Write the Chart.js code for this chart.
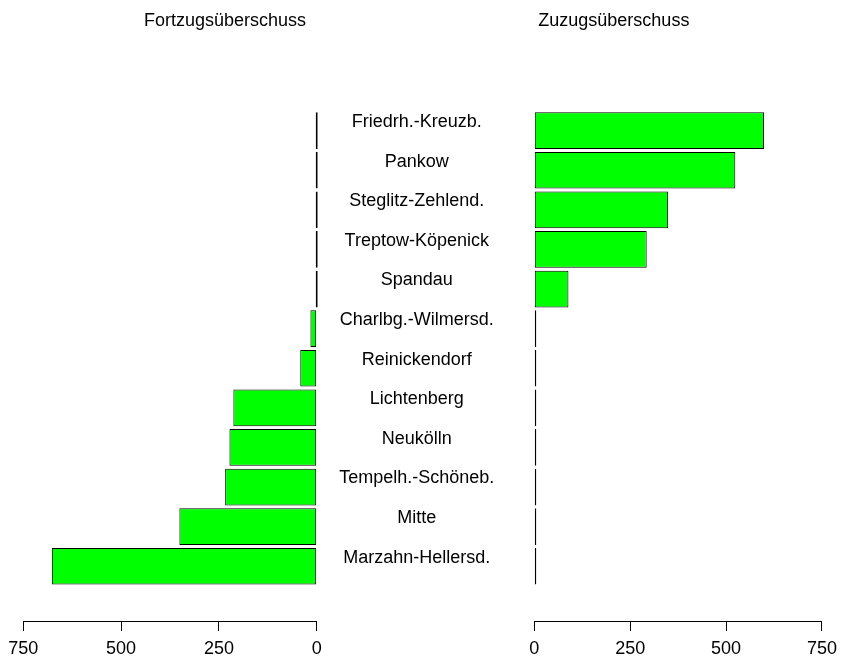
<!DOCTYPE html>
<html>
<head>
<meta charset="utf-8">
<script src="https://cdn.jsdelivr.net/npm/chart.js@4.4.0/dist/chart.umd.min.js"></script>
<style>
  html, body { margin: 0; padding: 0; background: #fff; }
  #wrap { position: relative; width: 845px; height: 659px; }
  #wrap canvas { position: absolute; left: 0; top: 0; }
</style>
</head>
<body>
<div id="wrap">
  <canvas id="chart-left" width="845" height="659"></canvas>
  <canvas id="chart-right" width="845" height="659"></canvas>
</div>
<script>
// data
var districts = ["Friedrh.-Kreuzb.", "Pankow", "Steglitz-Zehlend.", "Treptow-Köpenick", "Spandau",
  "Charlbg.-Wilmersd.", "Reinickendorf", "Lichtenberg", "Neukölln", "Tempelh.-Schöneb.", "Mitte", "Marzahn-Hellersd."];
var fortzug = [0, 0, 0, 0, 0, 16, 42, 213, 223, 234, 351, 677];
var zuzug = [599, 524, 349, 293, 89, 0, 0, 0, 0, 0, 0, 0];
var tickValues = [0, 250, 500, 750];
var titles = ["Fortzugsüberschuss", "Zuzugsüberschuss"];

Chart.defaults.font.family = "'Liberation Sans', Arial, sans-serif";
Chart.defaults.font.size = 18;
Chart.defaults.color = "#000";

// R style detached axis below the bars
function xAxis(reverse) {
  return {
    type: "linear",
    reverse: reverse,
    min: 0,
    max: 750,
    position: { y: 12.383 },
    afterBuildTicks: function (s) {
      s.ticks = tickValues.map(function (v) { return { value: v }; });
    },
    grid: { display: true, drawOnChartArea: false, drawTicks: true, tickLength: 9, color: "#000", lineWidth: 1 },
    border: { display: true, color: "#000", width: 1 },
    ticks: { padding: 8, color: "#000", maxRotation: 0, autoSkip: false }
  };
}

function barSet(values) {
  return {
    data: values,
    backgroundColor: "#00ff00",
    borderColor: "#000",
    borderWidth: 1,
    borderSkipped: false,
    minBarLength: 2,
    barPercentage: 0.927,
    categoryPercentage: 1,
    clip: false
  };
}

var titlePlugin = {
  id: "panelTitles",
  afterDraw: function (chart) {
    var ctx = chart.ctx;
    ctx.save();
    ctx.font = "18px 'Liberation Sans', Arial, sans-serif";
    ctx.fillStyle = "#000";
    ctx.textAlign = "left";
    ctx.textBaseline = "alphabetic";
    ctx.fillText(titles[0], 144, 25.7);
    ctx.fillText(titles[1], 538.3, 25.7);
    ctx.restore();
  }
};

// left panel
new Chart(document.getElementById("chart-left"), {
  type: "bar",
  data: { labels: districts, datasets: [barSet(fortzug)] },
  options: {
    indexAxis: "y",
    responsive: false,
    animation: false,
    devicePixelRatio: 1,
    layout: { padding: { left: 23.3, right: 845 - 316.7, top: 110.85, bottom: 659 - 586.05 } },
    plugins: { legend: { display: false }, tooltip: { enabled: false } },
    scales: {
      x: xAxis(true),
      y: { display: false }
    }
  },
  plugins: [titlePlugin]
});

// right panel, its y axis carries the district names in the middle
new Chart(document.getElementById("chart-right"), {
  type: "bar",
  data: { labels: districts, datasets: [barSet(zuzug)] },
  options: {
    indexAxis: "y",
    responsive: false,
    animation: false,
    devicePixelRatio: 1,
    layout: { padding: { left: 316.7, right: 845 - 827.7, top: 110.85, bottom: 659 - 586.05 } },
    plugins: { legend: { display: false }, tooltip: { enabled: false } },
    scales: {
      x: xAxis(false),
      y: {
        afterFit: function (s) { s.width = 534.3 - 316.7; },
        grid: { display: false },
        border: { display: false },
        ticks: { crossAlign: "center", padding: 32, labelOffset: -8.6, autoSkip: false, color: "#000" }
      }
    }
  }
});
</script>
</body>
</html>
